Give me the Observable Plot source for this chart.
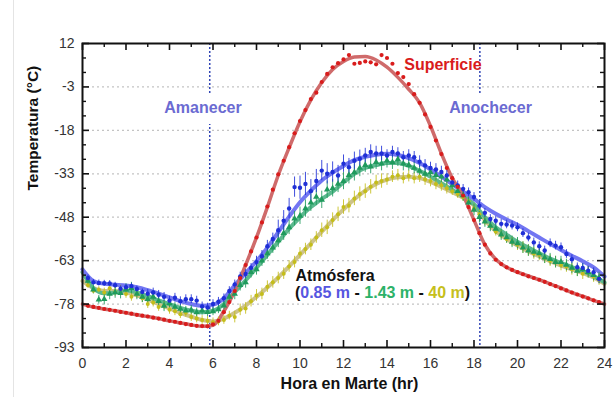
<!DOCTYPE html>
<html><head><meta charset="utf-8">
<script src="https://cdn.jsdelivr.net/npm/d3@7"></script>
<script src="https://cdn.jsdelivr.net/npm/@observablehq/plot@0.6"></script>
<style>
body{margin:0;background:#fff;}
#chart{position:relative;width:613px;height:397px;overflow:hidden;}
#edge{position:absolute;left:13px;top:0;width:1px;height:397px;background:#e4e4e4;}
</style>
</head><body><div id="chart"><div id="edge"></div></div>
<script>
// ---- data ----
const fitHours = [0,0.5,1,1.5,2,2.5,3,3.5,4,4.5,5,5.5,6,6.5,7,7.5,8,8.5,9,9.5,10,10.5,11,11.5,12,12.5,13,13.5,14,14.5,15,15.5,16,16.5,17,17.5,18,18.5,19,19.5,20,20.5,21,21.5,22,22.5,23,23.5,24];
const surfaceFit = [-78,-79,-79.7,-80.3,-81,-81.7,-82.3,-83,-83.8,-84.5,-85.2,-85.7,-85.3,-80.5,-73.5,-64.5,-55,-44.5,-33.5,-24,-15,-7.5,-1.5,3,5.8,7.3,7.5,6.3,3.8,0.3,-3.8,-8.5,-16.5,-26,-34.5,-40.5,-49,-57.5,-62.5,-65.3,-67,-68.3,-69.6,-71,-72.5,-74,-75.3,-76.7,-78];
const blueFit = [-66,-70,-71,-71.3,-71.6,-72.2,-73.2,-74.4,-75.7,-77,-78,-78.6,-78.2,-76,-71.5,-67.3,-63.2,-58.5,-53.2,-47.8,-42.8,-38.8,-35.3,-32.6,-30.3,-28.3,-27.1,-26.4,-26.1,-26.5,-27.6,-29.3,-31.5,-34,-36.6,-39.2,-41.7,-44.5,-46.8,-48.8,-50.6,-52.8,-55,-57.2,-59.3,-61.3,-63.2,-65.3,-68.5];
const greenFit = [-67,-72.5,-74.3,-74,-73.2,-74,-75.3,-76.7,-78,-79.3,-80.3,-80.8,-80.3,-78,-73.8,-69.8,-65.5,-61,-56.5,-52,-48,-44.5,-41.7,-39.2,-36,-33,-31,-30,-29.3,-29.3,-30.3,-32,-34,-36.3,-38.5,-40.8,-43.5,-48,-51.5,-54,-56.5,-58.5,-60.5,-62.3,-63.8,-65.2,-66.6,-68.3,-70.5];
const yellowFit = [-70,-72.5,-73.5,-73.5,-74,-75,-76.5,-78,-79.5,-81,-82.3,-83.5,-84,-83,-81,-78.5,-75.5,-72.3,-68.8,-65,-61,-57,-53,-49,-45.3,-41.8,-38.8,-36.5,-35,-34.2,-34,-34.5,-35.8,-37.5,-39.3,-41.3,-44,-49,-52.8,-55.5,-57.8,-59.8,-61.5,-63.2,-64.7,-66,-67.3,-68.8,-71];

const obsHours = [
 0.25,0.5,0.75,1, 1.25,1.5,1.75,2, 2.25,2.5,2.75,3, 3.25,3.5,3.75,4,
 4.25,4.5,4.75,5, 5.25,5.5,5.75,6, 6.25,6.5,6.75,7, 7.25,7.5,7.75,8,
 8.25,8.5,8.75,9, 9.25,9.5,9.75,10, 10.25,10.5,10.75,11, 11.25,11.5,11.75,12,
 12.25,12.5,12.75,13, 13.25,13.5,13.75,14, 14.25,14.5,14.75,15, 15.25,15.5,15.75,16,
 16.25,16.5,16.75,17, 17.25,17.5,17.75,18, 18.25,18.5,18.75,19, 19.25,19.5,19.75,20,
 20.25,20.5,20.75,21, 21.25,21.5,21.75,22, 22.25,22.5,22.75,23, 23.25,23.5,23.75];

const surfaceObs = [
 -78.6,-79.0,-79.3,-79.7, -80.0,-80.3,-80.7,-81.0, -81.3,-81.7,-82.0,-82.3, -82.7,-83.0,-83.4,-83.8,
 -84.1,-84.5,-84.9,-85.2, -85.5,-85.6,-85.7,-85.0, -83.8,-80.8,-77.3,-73.5, -69.0,-64.5,-59.8,-55.0,
 -49.8,-44.3,-38.5,-33.2, -28.5,-23.8,-19.0,-14.8, -11.0,-7.2,-5.0,-1.3, 1.5,3.8,5.2,6.5,
 8.0,5.0,5.3,5.8, 5.5,4.8,8.0,7.0, 5.0,1.8,0.4,-2.0, -5.5,-8.5,-12.5,-16.8,
 -21.5,-26.2,-31.0,-34.5, -37.5,-40.5,-44.5,-49.0, -53.5,-57.5,-60.5,-62.7, -64.2,-65.3,-66.2,-67.0,
 -67.7,-68.4,-69.0,-69.6, -70.3,-71.1,-71.8,-72.6, -73.3,-74.0,-74.7,-75.4, -76.0,-76.7,-77.3];
const blueObs = [
 -69.0,-70.5,-70.7,-70.8, -70.9,-71.5,-72.7,-72.2, -71.8,-72.8,-73.8,-74.4, -74.0,-74.8,-75.5,-76.8,
 -75.8,-77.0,-76.3,-76.3, -76.8,-78.8,-79.2,-78.0, -77.2,-76.0,-73.5,-71.2, -68.5,-67.6,-65.5,-63.5,
 -61.5,-58.0,-55.5,-52.5, -49.2,-45.0,-37.6,-37.8, -36.5,-39.0,-35.5,-31.9, -33.0,-32.4,-33.6,-29.5,
 -30.7,-28.5,-27.8,-26.7, -25.5,-26.0,-26.0,-26.7, -25.5,-26.0,-27.3,-26.7, -27.3,-28.8,-30.1,-31.0,
 -31.5,-32.4,-33.6,-36.0, -37.0,-38.2,-39.4,-41.0, -44.0,-46.5,-48.6,-49.2, -50.3,-50.5,-50.9,-51.5,
 -53.5,-55.0,-56.7,-58.0, -59.5,-57.0,-57.8,-58.4, -60.7,-62.5,-65.3,-65.5, -66.5,-67.0,-69.3];
const greenObs = [
 -70.0,-73.0,-76.5,-76.3, -74.5,-74.0,-74.2,-73.0, -72.5,-74.5,-75.5,-76.3, -75.5,-77.0,-78.6,-77.8,
 -79.0,-79.7,-80.3,-80.0, -80.9,-80.3,-80.8,-80.5, -79.8,-78.5,-75.5,-74.5, -71.5,-70.5,-67.0,-66.0,
 -63.0,-60.5,-58.5,-56.0, -53.5,-51.5,-48.5,-47.5, -45.0,-43.0,-41.0,-42.0, -38.5,-38.0,-36.5,-35.5,
 -33.5,-32.5,-31.0,-30.0, -30.5,-29.0,-29.5,-28.5, -29.0,-28.0,-29.5,-30.0, -31.0,-32.0,-33.0,-32.5,
 -33.5,-34.0,-35.0,-37.0, -39.0,-40.5,-43.0,-45.5, -48.0,-49.5,-51.0,-52.0, -54.0,-55.0,-56.5,-57.0,
 -58.5,-59.5,-60.0,-60.5, -62.0,-62.5,-63.5,-63.5, -64.5,-65.5,-66.5,-66.0, -67.0,-68.0,-69.0];
const yellowObs = [
 -71.5,-73.4,-73.0,-74.0, -72.5,-73.8,-73.0,-74.5, -75.5,-74.5,-76.0,-78.0, -77.5,-79.0,-78.5,-80.0,
 -80.5,-81.5,-81.0,-82.5, -83.0,-83.5,-83.8,-84.3, -84.0,-83.5,-82.0,-82.5, -80.0,-79.5,-77.0,-75.0,
 -74.5,-72.0,-70.5,-69.0, -67.5,-65.0,-63.5,-60.5, -59.0,-57.5,-55.0,-52.5, -51.5,-49.0,-47.0,-44.5,
 -44.0,-41.5,-40.0,-39.0, -37.5,-36.0,-35.5,-35.0, -34.0,-33.5,-34.5,-33.8, -34.5,-34.0,-35.0,-35.5,
 -36.5,-37.0,-38.0,-39.0, -40.0,-41.0,-42.5,-45.0, -47.0,-49.5,-51.0,-53.0, -54.0,-55.5,-56.5,-57.5,
 -58.5,-59.5,-60.5,-61.0, -62.0,-63.0,-63.5,-64.5, -65.0,-66.0,-66.5,-67.5, -67.0,-68.5,-69.5];

// error bar half-lengths per hour of day (index = hour)
const blueErr   = [1,1,1,1.5,1.5,1.5,1.5,1.5,2,3.5,4,3.5,3,2.5,2,2,2,1.5,1.5,1.5,1.5,1.5,1.5,1.5];
const greenErr  = [1.5,2,2,2,1.5,1.5,1.5,2,2,2.5,3,3,3,2.5,2.5,2,2,2,2,2,2,2,2,2];
const yellowErr = [1,1.5,1.5,1.5,1.5,1.5,1.5,2,2,2,2,2.5,2.5,2.5,2,2,2,1.5,1.5,1.5,2,2,2,2];

const xTicks = [0,2,4,6,8,10,12,14,16,18,20,22,24];
const xMinor = [1,3,5,7,9,11,13,15,17,19,21,23];
const yTicks = [12,-3,-18,-33,-48,-63,-78,-93];
const yMinor = [7,2,-8,-13,-23,-28,-38,-43,-53,-58,-68,-73,-83,-88];
const gridY = [-3,-18,-33,-48,-63,-78];
const sunEvents = [5.85, 18.27];

// ---- build rows ----
const fitRows = (vals) => fitHours.map((h, i) => ({h, v: vals[i]}));
const obsRows = (vals, err) => obsHours.map((h, i) => ({h, v: vals[i], e: err ? err[Math.min(23, Math.floor(h))] : 0}));

const surfF = fitRows(surfaceFit), blueF = fitRows(blueFit), greenF = fitRows(greenFit), yellowF = fitRows(yellowFit);
const surfO = obsRows(surfaceObs), blueO = obsRows(blueObs, blueErr), greenO = obsRows(greenObs, greenErr), yellowO = obsRows(yellowObs, yellowErr);

const C = {
  red: "#d91c1c", redFit: "#cf6b6b",
  blue: "#1f2fd6", blueFit: "#7276f2",
  green: "#1f9a5c", greenFit: "#5cb98f",
  yellow: "#c4bd1a", yellowFit: "#cdc38a"
};
const W = 613, H = 397, mL = 82, mR = 9, mT = 43, mB = 50;
const pw = W - mL - mR, ph = H - mT - mB;

const errBars = (rows, color) => Plot.ruleX(rows, {x: "h", y1: d => d.v - d.e, y2: d => d.v + d.e, stroke: color, strokeWidth: 1, strokeOpacity: 0.85});

const plot = Plot.plot({
  width: W, height: H,
  marginLeft: mL, marginRight: mR, marginTop: mT, marginBottom: mB,
  style: {fontFamily: "'Liberation Sans', Arial, sans-serif", background: "white", overflow: "visible"},
  x: {domain: [0, 24]},
  y: {domain: [-93, 12]},
  marks: [
    Plot.ruleY(gridY, {stroke: "#c4c4c4", strokeDasharray: "2,3", strokeWidth: 1.2}),
    Plot.ruleX(sunEvents, {stroke: "#3145b5", strokeDasharray: "2,2", strokeWidth: 1.5}),
    Plot.line(yellowF, {x: "h", y: "v", stroke: C.yellowFit, strokeWidth: 4, curve: "monotone-x"}),
    Plot.line(greenF, {x: "h", y: "v", stroke: C.greenFit, strokeWidth: 4, curve: "monotone-x"}),
    Plot.line(blueF, {x: "h", y: "v", stroke: C.blueFit, strokeWidth: 4, curve: "monotone-x"}),
    Plot.line(surfF, {x: "h", y: "v", stroke: C.redFit, strokeWidth: 3.5, curve: "monotone-x"}),
    errBars(yellowO, C.yellow),
    errBars(greenO, C.green),
    errBars(blueO, C.blue),
    Plot.dot(yellowO, {x: "h", y: "v", r: 2, fill: C.yellow}),
    Plot.dot(greenO, {x: "h", y: "v", r: 2.4, fill: C.green, symbol: "triangle"}),
    Plot.dot(blueO, {x: "h", y: "v", r: 2.2, fill: C.blue}),
    Plot.dot(surfO, {x: "h", y: "v", r: 2.1, fill: C.red}),
    Plot.frame({stroke: "#111", strokeWidth: 2}),
    // inward ticks on all four sides
    Plot.tickX(xTicks, {x: d => d, insetTop: ph - 7, stroke: "#111", strokeWidth: 1.6}),
    Plot.tickX(xMinor, {x: d => d, insetTop: ph - 4, stroke: "#111", strokeWidth: 1.4}),
    Plot.tickX(xTicks, {x: d => d, insetBottom: ph - 7, stroke: "#111", strokeWidth: 1.6}),
    Plot.tickX(xMinor, {x: d => d, insetBottom: ph - 4, stroke: "#111", strokeWidth: 1.4}),
    Plot.tickY(yTicks, {y: d => d, insetRight: pw - 7, stroke: "#111", strokeWidth: 1.6}),
    Plot.tickY(yMinor, {y: d => d, insetRight: pw - 4, stroke: "#111", strokeWidth: 1.4}),
    Plot.tickY(yTicks, {y: d => d, insetLeft: pw - 7, stroke: "#111", strokeWidth: 1.6}),
    Plot.tickY(yMinor, {y: d => d, insetLeft: pw - 4, stroke: "#111", strokeWidth: 1.4}),
    Plot.axisX({ticks: xTicks, tickSize: 0, tickPadding: 11, tickFormat: d => String(d), label: null, fontSize: 14, fill: "#333"}),
    Plot.axisY({ticks: yTicks, tickSize: 0, tickPadding: 8, tickFormat: d => String(d), label: null, fontSize: 14, fill: "#333"}),
    Plot.text(["Hora en Marte (hr)"], {frameAnchor: "bottom", dy: 41, dx: 6, fontSize: 16, fontWeight: "bold", fill: "#111"}),
    Plot.text(["Temperatura (°C)"], {frameAnchor: "left", dx: -49, dy: -5, rotate: -90, fontSize: 15.5, fontWeight: "bold", fill: "#111"}),
    Plot.text(["Amanecer"], {x: () => 5.54, y: () => -10.4, fontSize: 16, fontWeight: "bold", fill: "#6b6bd2", stroke: "white", strokeWidth: 22}),
    Plot.text(["Anochecer"], {x: () => 18.76, y: () => -10.4, fontSize: 16, fontWeight: "bold", fill: "#6b6bd2", stroke: "white", strokeWidth: 22}),
    Plot.text(["Superficie"], {x: () => 16.57, y: () => 4.5, fontSize: 16, fontWeight: "bold", fill: "#d91c1c"}),
    Plot.text(["Atmósfera"], {x: () => 9.79, y: () => -68.2, textAnchor: "start", fontSize: 16, fontWeight: "bold", fill: "#111"})
  ]
});

// multicoloured second line of the atmosphere annotation
const sx = plot.scale("x"), sy = plot.scale("y");
const line2 = [["(", "#111"], ["0.85 m", "#5656e0"], [" - ", "#111"], ["1.43 m", "#2cb268"], [" - ", "#111"], ["40 m", "#c6bf1c"], [")", "#111"]];
const t = d3.select(plot).append("text")
  .attr("x", sx.apply(9.79)).attr("y", sy.apply(-74.1))
  .attr("dy", "0.35em")
  .attr("text-anchor", "start")
  .attr("font-size", 16).attr("font-weight", "bold")
  .attr("font-family", "'Liberation Sans', Arial, sans-serif")
  .style("white-space", "pre");
line2.forEach(([s, c]) => t.append("tspan").attr("fill", c).text(s));

document.getElementById("chart").appendChild(plot);
</script>
</body></html>
